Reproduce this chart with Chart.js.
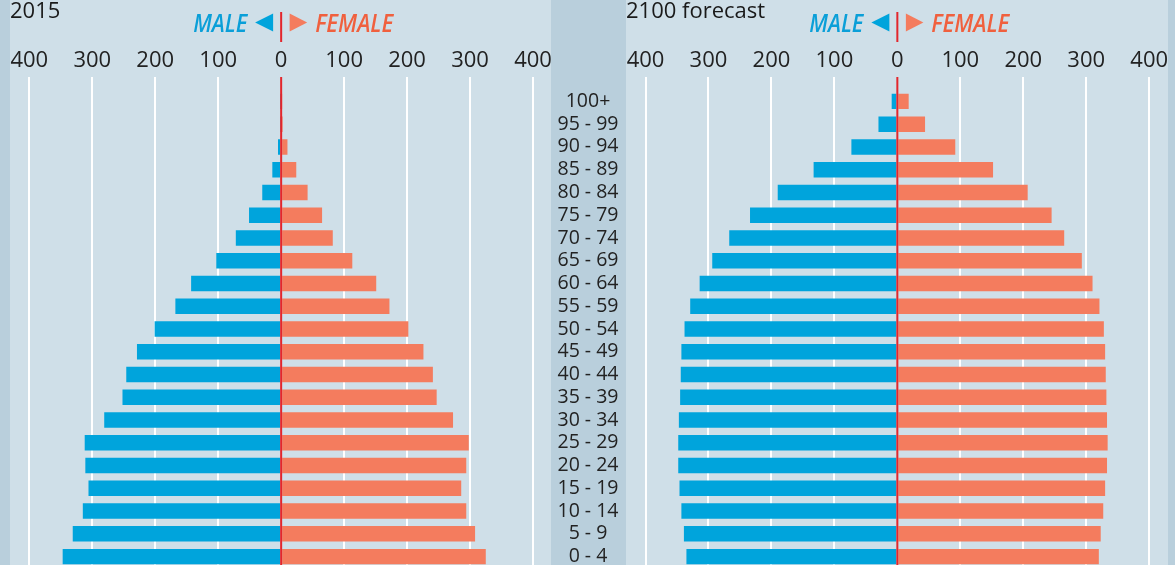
<!DOCTYPE html>
<html>
<head>
<meta charset="utf-8">
<script src="https://cdn.jsdelivr.net/npm/chart.js@4.4.1/dist/chart.umd.min.js"></script>
<style>
body{margin:0;width:1175px;height:565px;overflow:hidden;background:#b9cfdc;position:relative;font-family:"Open Sans",sans-serif}
.panel{position:absolute;top:0;height:565px;background:#cfdfe8}
#p1{left:10px;width:541px}
#p2{left:626px;width:542px}
canvas{position:absolute;top:0}
#c1{left:0}
#c2{left:551px}
</style>
</head>
<body>
<div class="panel" id="p1"></div>
<div class="panel" id="p2"></div>
<canvas id="c1" width="560" height="568"></canvas>
<canvas id="c2" width="624" height="568"></canvas>
<script>
// age groups, top to bottom
const ageGroups = ['100+','95 - 99','90 - 94','85 - 89','80 - 84','75 - 79','70 - 74','65 - 69','60 - 64','55 - 59',
  '50 - 54','45 - 49','40 - 44','35 - 39','30 - 34','25 - 29','20 - 24','15 - 19','10 - 14','5 - 9','0 - 4'];

// population, m
const male2015   = [0.3,0.5,5,14,30,51,72,103,143,168,201,229,246,252,281,312,311,306,315,331,347];
const female2015 = [0.5,2.5,10,24,42,65,82,113,151,172,202,226,241,247,273,298,294,286,294,308,325];
const male2100   = [9,30,73,133,190,234,267,294,314,329,338,343,344,345,347,348,348,346,343,339,335];
const female2100 = [18,44,92,152,207,245,265,293,310,321,328,330,331,332,333,334,333,330,327,323,320];

const xMin = -400, xMax = 400, xStep = 100;

const BLUE = '#00a4dc';
const SALMON = '#f47c5e';
const RED = '#e3262c';

// draws zero line, header and title
const headerPlugin = {
  id: 'header',
  afterDraw(chart, args, opts) {
    const ctx = chart.ctx;
    const area = chart.chartArea;
    const x0 = chart.scales.x.getPixelForValue(0);
    ctx.save();
    ctx.strokeStyle = RED;
    ctx.lineWidth = 2;
    ctx.beginPath();
    ctx.moveTo(x0, 77); ctx.lineTo(x0, area.bottom);
    ctx.moveTo(x0, 12); ctx.lineTo(x0, 42);
    ctx.stroke();

    ctx.fillStyle = BLUE;
    ctx.beginPath();
    ctx.moveTo(x0 - 26, 22.5); ctx.lineTo(x0 - 8, 13.5); ctx.lineTo(x0 - 8, 31.5);
    ctx.fill();
    ctx.fillStyle = SALMON;
    ctx.beginPath();
    ctx.moveTo(x0 + 26, 22.5); ctx.lineTo(x0 + 8.5, 13.5); ctx.lineTo(x0 + 8.5, 31.5);
    ctx.fill();

    ctx.font = 'italic 600 25px "Open Sans"';
    ctx.textBaseline = 'alphabetic';
    function squeezed(txt, x, w, color) {
      const m = ctx.measureText(txt).width;
      ctx.save();
      ctx.translate(x, 32);
      ctx.scale(w / m, 1);
      ctx.fillStyle = color;
      ctx.textAlign = 'left';
      ctx.fillText(txt, 0, 0);
      ctx.restore();
    }
    squeezed('MALE', x0 - 34 - 54, 54, '#0a9fd8');
    squeezed('FEMALE', x0 + 34, 78, '#f0603e');

    ctx.font = '500 22px "Open Sans"';
    ctx.fillStyle = '#1a1a1a';
    ctx.textAlign = 'left';
    ctx.fillText(opts.title, opts.titleX, 17.5);
    ctx.restore();
  }
};

function makeChart(id, title, titleX, male, female, showAges, pad) {
  return new Chart(document.getElementById(id), {
    type: 'bar',
    data: {
      labels: ageGroups,
      datasets: [
        { label: 'Male', data: male.map(v => -v), backgroundColor: BLUE, borderWidth: 0,
          barPercentage: 0.68, categoryPercentage: 1 },
        { label: 'Female', data: female, backgroundColor: SALMON, borderWidth: 0,
          barPercentage: 0.68, categoryPercentage: 1 }
      ]
    },
    options: {
      indexAxis: 'y',
      responsive: false,
      animation: false,
      layout: { padding: pad },
      plugins: {
        legend: { display: false },
        tooltip: { enabled: false },
        header: { title: title, titleX: titleX }
      },
      scales: {
        x: {
          type: 'linear',
          position: 'top',
          min: xMin,
          max: xMax,
          stacked: true,
          border: { display: false },
          grid: {
            color: c => c.tick && c.tick.value === 0 ? 'rgba(0,0,0,0)' : '#ffffff',
            tickColor: c => c.tick && c.tick.value === 0 ? 'rgba(0,0,0,0)' : '#ffffff',
            lineWidth: 2,
            drawTicks: true,
            tickLength: 13
          },
          ticks: {
            stepSize: xStep,
            callback: v => Math.abs(v),
            font: { family: 'Open Sans', size: 22 },
            color: '#222222',
            padding: 3,
            maxRotation: 0
          },
          afterFit: s => { s.height = 90; }
        },
        y: {
          type: 'category',
          stacked: true,
          display: showAges,
          border: { display: false },
          grid: { display: false },
          ticks: {
            autoSkip: false,
            crossAlign: 'center',
            padding: 19,
            font: { family: 'Open Sans', size: 19.5 },
            color: '#222222'
          },
          afterFit: s => {
            if (showAges) s.width = 94.5;
            s.paddingTop = 0;
            s.paddingBottom = 0;
          }
        }
      }
    },
    plugins: [headerPlugin]
  });
}

makeChart('c1', '2015', 10, male2015, female2015, false, { left: 29.3, right: 27, top: 0, bottom: 0 });
makeChart('c2', '2100 forecast', 75, male2100, female2100, true, { left: 0, right: 25.8, top: 0, bottom: 0 });
</script>
</body>
</html>
